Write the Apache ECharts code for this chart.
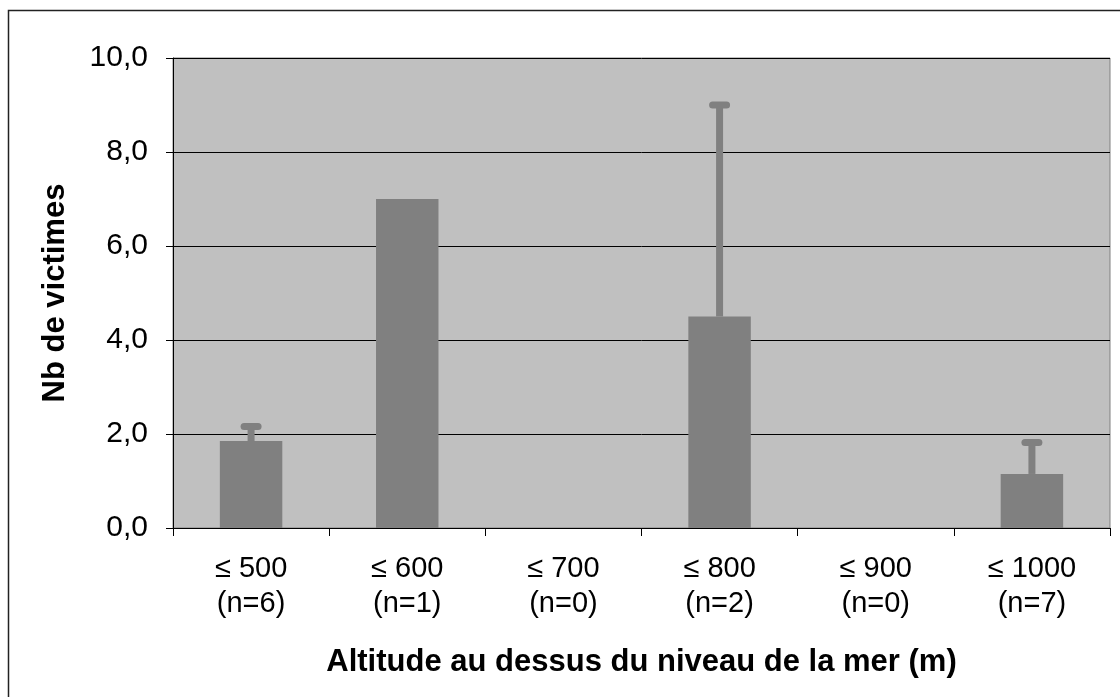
<!DOCTYPE html>
<html>
<head>
<meta charset="utf-8">
<script src="https://cdn.jsdelivr.net/npm/echarts@6/dist/echarts.min.js"></script>
<style>
html,body{margin:0;padding:0;background:#fff;}
#c{width:1120px;height:697px;}
</style>
</head>
<body>
<div id="c"></div>
<script>
var categories = ['≤ 500\n(n=6)', '≤ 600\n(n=1)', '≤ 700\n(n=0)', '≤ 800\n(n=2)', '≤ 900\n(n=0)', '≤ 1000\n(n=7)'];
var means = [1.85, 7.0, null, 4.5, null, 1.15];
var upper = [2.16, null, null, 9.0, null, 1.82];
var yTicks = [0, 2, 4, 6, 8, 10];

var errData = [];
for (var i = 0; i < categories.length; i++) {
  if (upper[i] != null && means[i] != null) errData.push([i, means[i], upper[i]]);
}

var chart = echarts.init(document.getElementById('c'));
var font = 'Arial, "Liberation Sans", sans-serif';
chart.setOption({
  animation: false,
  backgroundColor: '#fff',
  graphic: [{
    type: 'rect', shape: {x: 8.5, y: 10.5, width: 1200, height: 800},
    style: {fill: null, stroke: '#222', lineWidth: 1.5}, z: -1
  }],
  grid: {left: 173, right: 10, top: 58, bottom: 169, show: true,
    backgroundColor: '#c0c0c0', borderColor: '#808080', borderWidth: 1},
  xAxis: {
    type: 'category', data: categories,
    axisLine: {lineStyle: {color: '#000', width: 1}},
    axisTick: {show: true, length: 8, lineStyle: {color: '#000'}},
    axisLabel: {color: '#000', fontFamily: font, fontSize: 29, lineHeight: 35, margin: 23},
    name: 'Altitude au dessus du niveau de la mer (m)',
    nameLocation: 'middle', nameGap: 119,
    nameTextStyle: {color: '#000', fontFamily: font, fontSize: 31, fontWeight: 'bold'}
  },
  yAxis: {
    type: 'value', min: 0, max: 10, interval: 2,
    axisLine: {show: true, lineStyle: {color: '#000', width: 1}},
    axisTick: {show: true, length: 7, lineStyle: {color: '#000'}},
    axisLabel: {color: '#000', fontFamily: font, fontSize: 30, margin: 25,
      formatter: function (v) { return yTicks.indexOf(v) >= 0 ? v.toFixed(1).replace('.', ',') : ''; }},
    splitLine: {show: true, lineStyle: {color: '#000', width: 1}},
    name: 'Nb de victimes', nameLocation: 'middle', nameGap: 102,
    nameTextStyle: {color: '#000', fontFamily: font, fontSize: 31, fontWeight: 'bold'}
  },
  series: [{
    type: 'bar', data: means, barWidth: '40%',
    itemStyle: {color: '#808080'}
  }, {
    type: 'custom', data: errData, z: 3,
    renderItem: function (params, api) {
      var x = api.value(0);
      var b = api.coord([x, api.value(1)]);
      var t = api.coord([x, api.value(2)]);
      return {type: 'group', children: [
        {type: 'line', shape: {x1: b[0], y1: b[1], x2: t[0], y2: t[1]},
         style: {stroke: '#808080', lineWidth: 7}},
        {type: 'line', shape: {x1: t[0] - 7, y1: t[1], x2: t[0] + 7, y2: t[1]},
         style: {stroke: '#808080', lineWidth: 7, lineCap: 'round'}}
      ]};
    }
  }]
});
</script>
</body>
</html>
